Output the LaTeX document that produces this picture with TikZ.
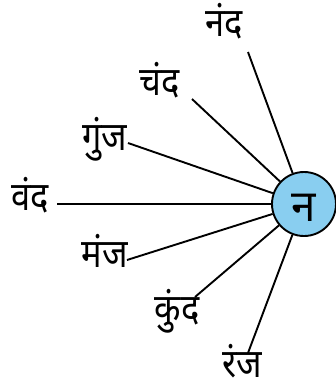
\documentclass[tikz,border=0pt]{standalone}
\usepackage{fontspec}
\newfontfamily\deva[Script=Devanagari,FakeStretch=0.86]{Noto Sans}
\newfontfamily\devab[Script=Devanagari]{Noto Sans}
\definecolor{circblue}{RGB}{137,206,240}
\begin{document}
\begin{tikzpicture}[x=1pt,y=-1pt,
  lbl/.style={font=\deva\fontsize{40}{42}\selectfont,inner sep=0pt,anchor=base},
  spoke/.style={line width=1.9pt,black},
  hub/.style={circle,draw=black,line width=1.9pt,fill=circblue,minimum size=64pt,inner sep=0pt}]
\useasboundingbox (0,0) rectangle (336,392);
\node[hub] (c) at (304,204) {};
\node[font=\devab\bfseries\fontsize{44}{46}\selectfont,inner sep=0pt,anchor=base] (cl) at (304,221) {न};
\node[lbl] (t1) at (224,36) {नंद};
\node[lbl] (t2) at (160,95) {चंद};
\node[lbl] (t3) at (105,150) {गुंज};
\node[lbl] (t4) at (30,210) {वंद};
\node[lbl] (t5) at (105,267) {मंज};
\node[lbl] (t6) at (177,322) {कुंद};
\node[lbl] (t7) at (242,377) {रंज};
\coordinate (e1) at (248,52);
\coordinate (e2) at (192,99);
\coordinate (e3) at (128,143);
\coordinate (e4) at (57,204);
\coordinate (e5) at (127,260);
\coordinate (e6) at (195,297);
\coordinate (e7) at (248,353);
\foreach \i in {1,...,7} \draw[spoke] (e\i) -- (c);
\end{tikzpicture}
\end{document}
